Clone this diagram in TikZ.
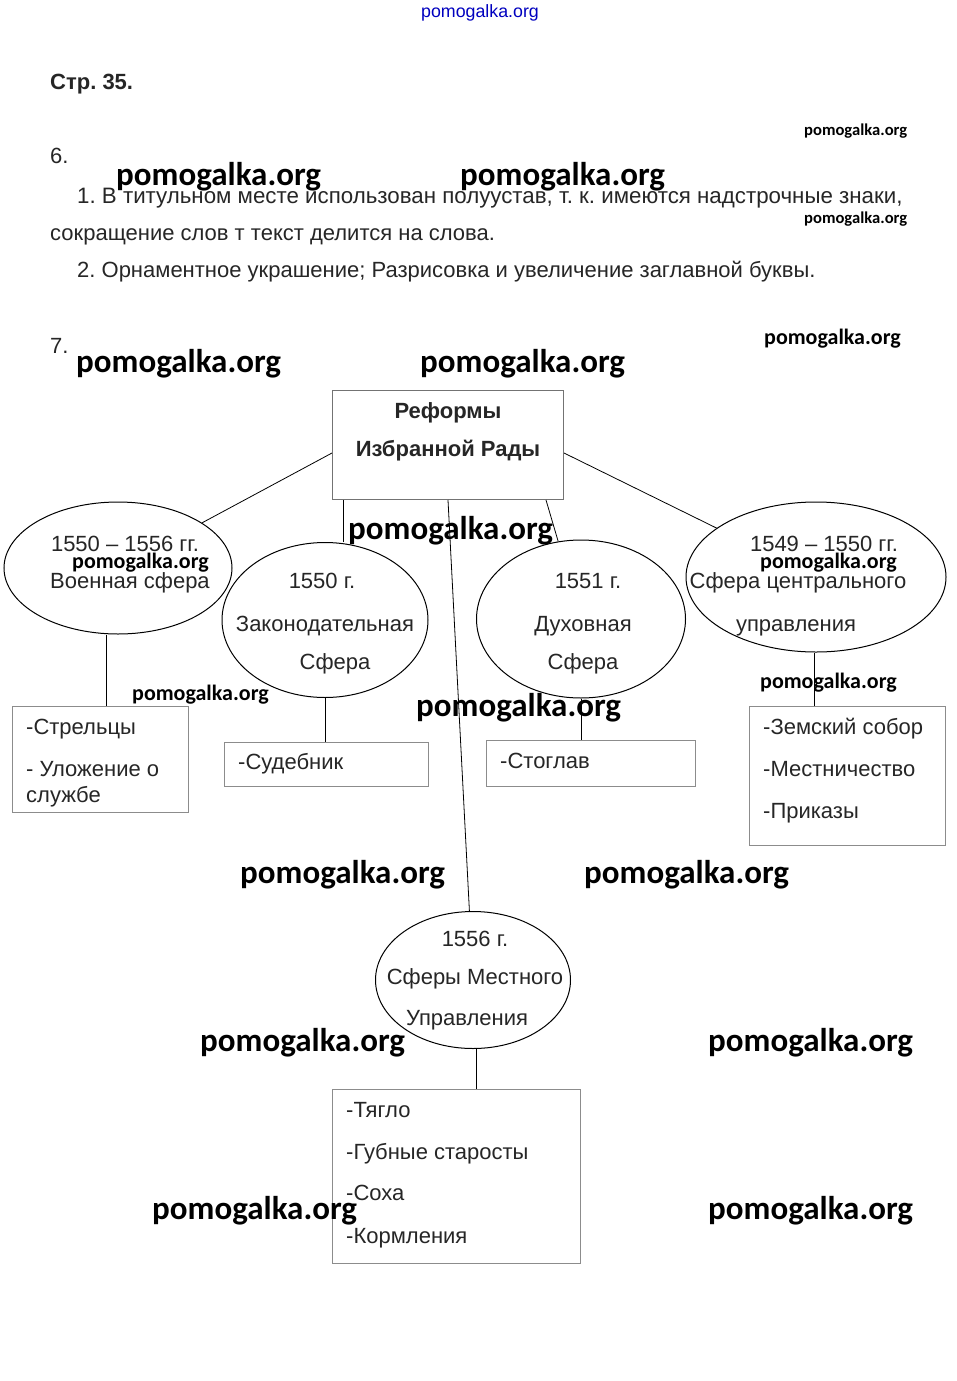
\documentclass[tikz,border=0pt]{standalone}
\usepackage{fontspec}
\setmainfont{Liberation Sans}
\newfontfamily\wmfont{Carlito}
\usetikzlibrary{shapes.geometric}
\frenchspacing

\begin{document}
\begin{tikzpicture}[
    x=1pt, y=-1pt,
    txt/.style={anchor=base west, inner sep=0pt, font=\fontsize{22}{26}\selectfont, text=black!85},
    ctxt/.style={anchor=base, inner sep=0pt, font=\fontsize{22}{26}\selectfont, text=black!85},
    wm/.style={anchor=base west, inner sep=0pt, font=\wmfont\bfseries\fontsize{33}{38}\selectfont},
    wmm/.style={anchor=base west, inner sep=0pt, font=\wmfont\bfseries\fontsize{22}{26}\selectfont},
    wms/.style={anchor=base west, inner sep=0pt, font=\wmfont\bfseries\fontsize{16.6}{20}\selectfont},
    oval/.style={draw, ellipse, line width=1pt, inner sep=0pt},
    list/.style={draw=black!45, line width=1pt, anchor=north west, inner sep=0pt},
    link/.style={line width=0.8pt}
  ]
  \useasboundingbox[fill=white] (0,0) rectangle (957,1381);

  % header and exercise 6
  \node[anchor=base, inner sep=0pt, font=\fontsize{17.8}{20}\selectfont, text=blue!75!black] (site) at (480,18) {pomogalka.org};
  \node[txt, font=\bfseries\fontsize{22}{26}\selectfont] (page) at (50,89) {Стр. 35.};
  \node[txt] (ex6) at (50,163) {6.};
  \node[txt, font=\fontsize{22.3}{26}\selectfont] (l1) at (77,203) {1. В титульном месте использован полуустав, т. к. имеются надстрочные знаки,};
  \node[txt] (l2) at (50,240) {сокращение слов т текст делится на слова.};
  \node[txt] (l3) at (77,277) {2. Орнаментное украшение; Разрисовка и увеличение заглавной буквы.};
  \node[txt] (ex7) at (50,353) {7.};

  % scheme
  \node[list, draw=black!55, minimum width=231pt, minimum height=109pt] (reform) at (332,390) {};
  \node[ctxt, font=\bfseries\fontsize{22}{26}\selectfont] (rt1) at (448,418) {Реформы};
  \node[ctxt, font=\bfseries\fontsize{22}{26}\selectfont] (rt2) at (448,456) {Избранной Рады};

  \node[oval, minimum width=228pt, minimum height=132pt] (voen) at (118,568) {};
  \node[oval, minimum width=206pt, minimum height=155pt] (zak) at (325,620) {};
  \node[oval, minimum width=209pt, minimum height=158pt] (dukh) at (581,619) {};
  \node[oval, minimum width=260pt, minimum height=150pt] (centr) at (816,577) {};
  \node[oval, minimum width=195pt, minimum height=137pt] (mest) at (473,980) {};

  \node[ctxt] (v1) at (125,551) {1550 – 1556 гг.};
  \node[ctxt] (v2) at (130,588) {Военная сфера};
  \node[ctxt] (z1) at (322,588) {1550 г.};
  \node[ctxt] (z2) at (325,631) {Законодательная};
  \node[ctxt] (z3) at (335,669) {Сфера};
  \node[ctxt] (d1) at (588,588) {1551 г.};
  \node[ctxt] (d2) at (583,631) {Духовная};
  \node[ctxt] (d3) at (583,669) {Сфера};
  \node[ctxt] (c1) at (824,551) {1549 – 1550 гг.};
  \node[ctxt] (c2) at (798,588) {Сфера центрального};
  \node[ctxt] (c3) at (796,631) {управления};
  \node[ctxt] (m1) at (475,946) {1556 г.};
  \node[ctxt] (m2) at (475,984) {Сферы Местного};
  \node[ctxt] (m3) at (467,1025) {Управления};

  \node[list, minimum width=176pt, minimum height=106pt] (strel) at (12,706) {};
  \node[list, minimum width=204pt, minimum height=44pt] (sud) at (224,742) {};
  \node[list, minimum width=209pt, minimum height=46pt] (stog) at (486,740) {};
  \node[list, minimum width=196pt, minimum height=139pt] (zem) at (749,706) {};
  \node[list, minimum width=248pt, minimum height=174pt] (tyag) at (332,1089) {};

  \node[txt] (s1) at (26,734) {-Стрельцы};
  \node[txt] (s2) at (26,776) {- Уложение о};
  \node[txt] (s3) at (26,802) {службе};
  \node[txt] (sb) at (238,769) {-Судебник};
  \node[txt] (sg) at (500,768) {-Стоглав};
  \node[txt] (e1) at (763,734) {-Земский собор};
  \node[txt] (e2) at (763,776) {-Местничество};
  \node[txt] (e3) at (763,818) {-Приказы};
  \node[txt] (t1) at (346,1117) {-Тягло};
  \node[txt] (t2) at (346,1159) {-Губные старосты};
  \node[txt] (t3) at (346,1200) {-Соха};
  \node[txt] (t4) at (346,1243) {-Кормления};

  \draw[link] ([yshift=-8pt]reform.west) -- (voen);
  \draw[link] ([yshift=-8pt]reform.east) -- (centr);
  \draw[link] ([xshift=11pt]reform.south west) -- ([xshift=11pt]reform.south west |- zak.north);
  \draw[link] ([xshift=-18pt]reform.south east) -- (dukh);
  \draw[link] (reform.south) -- (mest);
  \draw[link] ([xshift=-12pt]voen.south) -- ([xshift=-12pt]voen.south |- strel.north);
  \draw[link] (zak.south) -- (zak.south |- sud.north);
  \draw[link] (dukh.south) -- (dukh.south |- stog.north);
  \draw[link] ([xshift=-2pt]centr.south) -- ([xshift=-2pt]centr.south |- zem.north);
  \draw[link] ([xshift=3pt]mest.south) -- ([xshift=3pt]mest.south |- tyag.north);

  % watermarks
  \node[wms] (w1) at (804,135) {pomogalka.org};
  \node[wms] (w2) at (804,223) {pomogalka.org};
  \node[wm] (w3) at (116,185) {pomogalka.org};
  \node[wm] (w4) at (460,185) {pomogalka.org};
  \node[wmm] (w5) at (764,344) {pomogalka.org};
  \node[wm] (w6) at (76,372) {pomogalka.org};
  \node[wm] (w7) at (420,372) {pomogalka.org};
  \node[wm] (w8) at (348,539) {pomogalka.org};
  \node[wmm] (w9) at (72,568) {pomogalka.org};
  \node[wmm] (w10) at (760,568) {pomogalka.org};
  \node[wmm] (w11) at (132,700) {pomogalka.org};
  \node[wmm] (w12) at (760,688) {pomogalka.org};
  \node[wm] (w13) at (416,716) {pomogalka.org};
  \node[wm] (w14) at (240,883) {pomogalka.org};
  \node[wm] (w15) at (584,883) {pomogalka.org};
  \node[wm] (w16) at (200,1051) {pomogalka.org};
  \node[wm] (w17) at (708,1051) {pomogalka.org};
  \node[wm] (w18) at (152,1219) {pomogalka.org};
  \node[wm] (w19) at (708,1219) {pomogalka.org};
\end{tikzpicture}
\end{document}
